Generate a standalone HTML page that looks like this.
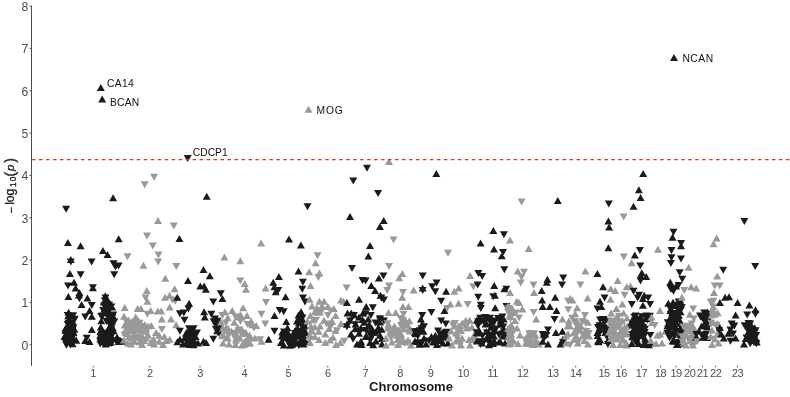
<!DOCTYPE html>
<html><head><meta charset="utf-8"><style>
html,body{margin:0;padding:0;background:#fff;}
body{width:790px;height:397px;overflow:hidden;}
svg{display:block;will-change:transform;font-family:"Liberation Sans",sans-serif;}
.b{fill:#1a1a1a}.g{fill:#999}
</style></head><body>
<svg width="790" height="397" viewBox="0 0 790 397">
<rect width="790" height="397" fill="#fff"/>
<g>
<path class="b" d="M64.6,332.9L68.6,339.9L60.6,339.9ZM61,338L69,338L65,345ZM65.4,326.7L69.4,333.7L61.4,333.7ZM65.5,331L69.5,338L61.5,338ZM65.5,324.7L69.5,331.7L61.5,331.7ZM62.1,205.7L70.1,205.7L66.1,212.7ZM66.3,324.9L70.3,331.9L62.3,331.9ZM66.4,329.7L70.4,336.7L62.4,336.7ZM62.4,341.7L70.4,341.7L66.4,348.7ZM67,327L71,334L63,334ZM63.3,332.2L71.3,332.2L67.3,339.2ZM63.7,312.1L71.7,312.1L67.7,319.1ZM63.7,321L71.7,321L67.7,328ZM67.9,238.9L71.9,245.9L63.9,245.9ZM64,282.6L72,282.6L68,289.6ZM68.3,312.3L72.3,319.3L64.3,319.3ZM68.4,293.1L72.4,300.1L64.4,300.1ZM68.6,308.7L72.6,315.7L64.6,315.7ZM64.6,319.7L72.6,319.7L68.6,326.7ZM69,315.9L73,322.9L65,322.9ZM65.6,340.4L73.6,340.4L69.6,347.4ZM65.6,321.3L73.6,321.3L69.6,328.3ZM69.9,270L73.9,277L65.9,277ZM65.9,326.6L73.9,326.6L69.9,333.6ZM66.4,341.2L74.4,341.2L70.4,348.2ZM66.5,338.8L74.5,338.8L70.5,345.8ZM70.8,256.1L74.8,263.1L66.8,263.1ZM66.8,258.5L74.8,258.5L70.8,265.5ZM70.9,332.2L74.9,339.2L66.9,339.2ZM70.9,318.2L74.9,325.2L66.9,325.2ZM67,328.4L75,328.4L71,335.4ZM67.4,312.9L75.4,312.9L71.4,319.9ZM67.7,338.9L75.7,338.9L71.7,345.9ZM67.8,335.4L75.8,335.4L71.8,342.4ZM72.2,331.8L76.2,338.8L68.2,338.8ZM68.4,326.5L76.4,326.5L72.4,333.5ZM72.5,321.4L76.5,328.4L68.5,328.4ZM72.6,323.5L76.6,330.5L68.6,330.5ZM68.6,330.2L76.6,330.2L72.6,337.2ZM72.6,340.2L76.6,347.2L68.6,347.2ZM73.1,318.5L77.1,325.5L69.1,325.5ZM73.1,324.9L77.1,331.9L69.1,331.9ZM69.1,312.3L77.1,312.3L73.1,319.3ZM69.2,325L77.2,325L73.2,332ZM73.4,328.2L77.4,335.2L69.4,335.2ZM73.5,329.3L77.5,336.3L69.5,336.3ZM74,278.8L78,285.8L70,285.8ZM74.4,325.7L78.4,332.7L70.4,332.7ZM70.5,316.4L78.5,316.4L74.5,323.4ZM70.5,315.8L78.5,315.8L74.5,322.8ZM75.6,284.5L79.6,291.5L71.6,291.5ZM76.3,336.8L80.3,343.8L72.3,343.8ZM78.7,291.6L82.7,298.6L74.7,298.6ZM79.4,289L83.4,296L75.4,296ZM75.4,295.3L83.4,295.3L79.4,302.3ZM80.6,242.3L84.6,249.3L76.6,249.3ZM76.6,271.2L84.6,271.2L80.6,278.2ZM81.6,301.1L85.6,308.1L77.6,308.1ZM81.2,313.5L89.2,313.5L85.2,320.5ZM85.2,336.9L89.2,343.9L81.2,343.9ZM82.7,334.7L90.7,334.7L86.7,341.7ZM87.4,294.5L91.4,301.5L83.4,301.5ZM89.5,338L93.5,345L85.5,345ZM89.6,307L93.6,314L85.6,314ZM87.6,258.6L95.6,258.6L91.6,265.6ZM87.8,301.9L95.8,301.9L91.8,308.9ZM91.8,312.8L95.8,319.8L87.8,319.8ZM91.8,326L95.8,333L87.8,333ZM92.9,284.3L96.9,291.3L88.9,291.3ZM88.9,284.3L96.9,284.3L92.9,291.3ZM100.2,331.7L104.2,338.7L96.2,338.7ZM96.3,340.6L104.3,340.6L100.3,347.6ZM100.3,327.9L104.3,334.9L96.3,334.9ZM96.4,338L104.4,338L100.4,345ZM96.8,333.9L104.8,333.9L100.8,340.9ZM100.8,84.1L104.8,91.1L96.8,91.1ZM100.8,323.6L104.8,330.6L96.8,330.6ZM101.3,317.2L105.3,324.2L97.3,324.2ZM97.3,313L105.3,313L101.3,320ZM97.7,337.3L105.7,337.3L101.7,344.3ZM101.9,328.9L105.9,335.9L97.9,335.9ZM98.2,313.4L106.2,313.4L102.2,320.4ZM102.2,95.6L106.2,102.6L98.2,102.6ZM98.4,312.5L106.4,312.5L102.4,319.5ZM102.9,247L106.9,254L98.9,254ZM99.2,307L107.2,307L103.2,314ZM99.7,341L107.7,341L103.7,348ZM103.8,298.6L107.8,305.6L99.8,305.6ZM100,302.2L108,302.2L104,309.2ZM104.1,330.6L108.1,337.6L100.1,337.6ZM104.5,331.6L108.5,338.6L100.5,338.6ZM104.5,305.2L108.5,312.2L100.5,312.2ZM101,297.4L109,297.4L105,304.4ZM105.1,338.5L109.1,345.5L101.1,345.5ZM105.2,307.3L109.2,314.3L101.2,314.3ZM105.3,292.2L109.3,299.2L101.3,299.2ZM101.5,294.6L109.5,294.6L105.5,301.6ZM101.7,329.7L109.7,329.7L105.7,336.7ZM105.8,340.5L109.8,347.5L101.8,347.5ZM105.9,302.8L109.9,309.8L101.9,309.8ZM102.5,318L110.5,318L106.5,325ZM102.6,300.3L110.6,300.3L106.6,307.3ZM102.8,300.9L110.8,300.9L106.8,307.9ZM106.9,295.3L110.9,302.3L102.9,302.3ZM103.3,334L111.3,334L107.3,341ZM107.5,251L111.5,258L103.5,258ZM107.6,333.4L111.6,340.4L103.6,340.4ZM107.7,339.2L111.7,346.2L103.7,346.2ZM107.8,308.4L111.8,315.4L103.8,315.4ZM108,330L112,337L104,337ZM104,317.9L112,317.9L108,324.9ZM108.1,302.3L112.1,309.3L104.1,309.3ZM104.2,339.6L112.2,339.6L108.2,346.6ZM108.2,307.2L112.2,314.2L104.2,314.2ZM104.2,338.1L112.2,338.1L108.2,345.1ZM104.4,314.1L112.4,314.1L108.4,321.1ZM108.5,308.9L112.5,315.9L104.5,315.9ZM104.6,318.9L112.6,318.9L108.6,325.9ZM104.6,303.1L112.6,303.1L108.6,310.1ZM108.8,328.1L112.8,335.1L104.8,335.1ZM108.8,310.4L112.8,317.4L104.8,317.4ZM105.1,301.8L113.1,301.8L109.1,308.8ZM105.3,307.2L113.3,307.2L109.3,314.2ZM109.5,323L113.5,330L105.5,330ZM105.7,330.4L113.7,330.4L109.7,337.4ZM110,329.9L114,336.9L106,336.9ZM110.1,315.2L114.1,322.2L106.1,322.2ZM110.3,328.9L114.3,335.9L106.3,335.9ZM110.4,302.9L114.4,309.9L106.4,309.9ZM110.5,325.1L114.5,332.1L106.5,332.1ZM110.6,338.8L114.6,345.8L106.6,345.8ZM110.9,301.1L114.9,308.1L106.9,308.1ZM106.9,336.9L114.9,336.9L110.9,343.9ZM107,320.9L115,320.9L111,327.9ZM111.2,320.3L115.2,327.3L107.2,327.3ZM107.2,303.6L115.2,303.6L111.2,310.6ZM107.4,303.5L115.4,303.5L111.4,310.5ZM107.7,340L115.7,340L111.7,347ZM111.8,318.2L115.8,325.2L107.8,325.2ZM112.2,303.4L116.2,310.4L108.2,310.4ZM108.3,314.5L116.3,314.5L112.3,321.5ZM112.4,313.8L116.4,320.8L108.4,320.8ZM112.5,311.4L116.5,318.4L108.5,318.4ZM112.5,323.8L116.5,330.8L108.5,330.8ZM108.6,330.7L116.6,330.7L112.6,337.7ZM113.1,194.2L117.1,201.2L109.1,201.2ZM109.3,311.4L117.3,311.4L113.3,318.4ZM109.5,260.2L117.5,260.2L113.5,267.2ZM113.6,327.2L117.6,334.2L109.6,334.2ZM110.2,271.2L118.2,271.2L114.2,278.2ZM110.3,318.5L118.3,318.5L114.3,325.5ZM111.5,263.5L119.5,263.5L115.5,270.5ZM112.5,338.3L120.5,338.3L116.5,345.3ZM117.1,333.5L121.1,340.5L113.1,340.5ZM118.4,338L122.4,345L114.4,345ZM114.6,262.4L122.6,262.4L118.6,269.4ZM118.7,235.3L122.7,242.3L114.7,242.3ZM119.5,337L123.5,344L115.5,344ZM120.1,336.8L124.1,343.8L116.1,343.8ZM122,337.8L126,344.8L118,344.8Z"/>
<path class="g" d="M124,312.8L128,319.8L120,319.8ZM124,336.5L128,343.5L120,343.5ZM120.6,331.5L128.6,331.5L124.6,338.5ZM124.7,304L128.7,311L120.7,311ZM124.7,321.6L128.7,328.6L120.7,328.6ZM125.3,328.7L129.3,335.7L121.3,335.7ZM126,325.5L130,332.5L122,332.5ZM122.3,318.3L130.3,318.3L126.3,325.3ZM127,321.6L131,328.6L123,328.6ZM123.5,253.2L131.5,253.2L127.5,260.2ZM127.5,325L131.5,332L123.5,332ZM127.8,339.6L131.8,346.6L123.8,346.6ZM128,322.5L132,329.5L124,329.5ZM128.3,316.3L132.3,323.3L124.3,323.3ZM128.4,318.7L132.4,325.7L124.4,325.7ZM124.4,330.5L132.4,330.5L128.4,337.5ZM124.7,334.9L132.7,334.9L128.7,341.9ZM128.7,316.9L132.7,323.9L124.7,323.9ZM129.1,333.1L133.1,340.1L125.1,340.1ZM126.3,335.5L134.3,335.5L130.3,342.5ZM130.4,325.8L134.4,332.8L126.4,332.8ZM131,340.5L135,347.5L127,347.5ZM131.3,324L135.3,331L127.3,331ZM131.7,318L135.7,325L127.7,325ZM131.7,327.2L135.7,334.2L127.7,334.2ZM133,323.5L137,330.5L129,330.5ZM133.6,321.9L137.6,328.9L129.6,328.9ZM133.9,336.8L137.9,343.8L129.9,343.8ZM134.3,337.7L138.3,344.7L130.3,344.7ZM134.4,330L138.4,337L130.4,337ZM135.1,321.1L139.1,328.1L131.1,328.1ZM135.2,325.7L139.2,332.7L131.2,332.7ZM135.6,313.4L139.6,320.4L131.6,320.4ZM135.6,331.8L139.6,338.8L131.6,338.8ZM136.2,316.3L140.2,323.3L132.2,323.3ZM136.3,322.6L140.3,329.6L132.3,329.6ZM132.7,325.1L140.7,325.1L136.7,332.1ZM137.5,333.1L141.5,340.1L133.5,340.1ZM137.6,304.9L141.6,311.9L133.6,311.9ZM133.7,323.8L141.7,323.8L137.7,330.8ZM138.1,333.7L142.1,340.7L134.1,340.7ZM138.3,317.4L142.3,324.4L134.3,324.4ZM138.5,317.1L142.5,324.1L134.5,324.1ZM135.6,319.8L143.6,319.8L139.6,326.8ZM135.6,329.1L143.6,329.1L139.6,336.1ZM139.6,338.3L143.6,345.3L135.6,345.3ZM140,333.5L144,340.5L136,340.5ZM136.5,327.8L144.5,327.8L140.5,334.8ZM140.9,304.9L144.9,311.9L136.9,311.9ZM140.9,326.5L144.9,333.5L136.9,333.5ZM137.4,340.1L145.4,340.1L141.4,347.1ZM142,341L146,348L138,348ZM142.2,322L146.2,329L138.2,329ZM142.2,332.4L146.2,339.4L138.2,339.4ZM138.2,322.9L146.2,322.9L142.2,329.9ZM138.5,340.5L146.5,340.5L142.5,347.5ZM142.7,333.4L146.7,340.4L138.7,340.4ZM142.8,335.5L146.8,342.5L138.8,342.5ZM139.1,337.8L147.1,337.8L143.1,344.8ZM143.4,261.8L147.4,268.8L139.4,268.8ZM144.1,337L148.1,344L140.1,344ZM140.7,181.2L148.7,181.2L144.7,188.2ZM144.8,321.1L148.8,328.1L140.8,328.1ZM141.5,294.5L149.5,294.5L145.5,301.5ZM146,334.5L150,341.5L142,341.5ZM146.1,327.8L150.1,334.8L142.1,334.8ZM142.1,324.6L150.1,324.6L146.1,331.6ZM146.2,325.1L150.2,332.1L142.2,332.1ZM146.8,287.1L150.8,294.1L142.8,294.1ZM143,232.6L151,232.6L147,239.6ZM147.4,297.7L151.4,304.7L143.4,304.7ZM143.4,310.8L151.4,310.8L147.4,317.8ZM148.1,322.6L152.1,329.6L144.1,329.6ZM148.1,331.8L152.1,338.8L144.1,338.8ZM150.7,306.9L154.7,313.9L146.7,313.9ZM150.7,339L154.7,346L146.7,346ZM151.3,322L155.3,329L147.3,329ZM148.8,242.4L156.8,242.4L152.8,249.4ZM153.5,335.5L157.5,342.5L149.5,342.5ZM154,340.5L158,347.5L150,347.5ZM150.1,173.8L158.1,173.8L154.1,180.8ZM156,329L160,336L152,336ZM157.9,307.5L161.9,314.5L153.9,314.5ZM158.1,216.9L162.1,223.9L154.1,223.9ZM154.2,258.6L162.2,258.6L158.2,265.6ZM154.5,251.6L162.5,251.6L158.5,258.6ZM159.2,331.8L163.2,338.8L155.2,338.8ZM159.2,337.7L163.2,344.7L155.2,344.7ZM161.2,307.5L165.2,314.5L157.2,314.5ZM161.8,315.4L165.8,322.4L157.8,322.4ZM157.8,325.9L165.8,325.9L161.8,332.9ZM163,341L167,348L159,348ZM164.4,333.1L168.4,340.1L160.4,340.1ZM165.1,293.8L169.1,300.8L161.1,300.8ZM165.3,274.7L169.3,281.7L161.3,281.7ZM166.4,337L170.4,344L162.4,344ZM169.6,291.8L173.6,298.8L165.6,298.8ZM169.7,303.6L173.7,310.6L165.7,310.6ZM169.7,335.7L173.7,342.7L165.7,342.7ZM171,315.4L175,322.4L167,322.4ZM168.3,296.4L176.3,296.4L172.3,303.4ZM169.8,222.5L177.8,222.5L173.8,229.5ZM174.6,285.2L178.6,292.2L170.6,292.2ZM171.3,297.7L179.3,297.7L175.3,304.7ZM176.2,321.3L180.2,328.3L172.2,328.3ZM172.3,263L180.3,263L176.3,270Z"/>
<path class="b" d="M177.3,293.8L181.3,300.8L173.3,300.8ZM177.3,338.3L181.3,345.3L173.3,345.3ZM179.4,235.1L183.4,242.1L175.4,242.1ZM175.9,310.2L183.9,310.2L179.9,317.2ZM175.9,327.8L183.9,327.8L179.9,334.8ZM179.9,335.7L183.9,342.7L175.9,342.7ZM183,340.5L187,347.5L179,347.5ZM179.8,309.5L187.8,309.5L183.8,316.5ZM180.5,316.7L188.5,316.7L184.5,323.7ZM184.5,334.4L188.5,341.4L180.5,341.4ZM186,329.7L190,336.7L182,336.7ZM187.1,337.7L191.1,344.7L183.1,344.7ZM183.7,154.9L191.7,154.9L187.7,161.9ZM188,276.9L192,283.9L184,283.9ZM188.4,340L192.4,347L184.4,347ZM184.4,305.6L192.4,305.6L188.4,312.6ZM188.4,333.1L192.4,340.1L184.4,340.1ZM184.5,335L192.5,335L188.5,342ZM189.1,299.7L193.1,306.7L185.1,306.7ZM185.1,325.2L193.1,325.2L189.1,332.2ZM185.8,329.5L193.8,329.5L189.8,336.5ZM190,341L194,348L186,348ZM186.2,339.7L194.2,339.7L190.2,346.7ZM191,327.8L195,334.8L187,334.8ZM187,335.7L195,335.7L191,342.7ZM192.6,331.2L196.6,338.2L188.6,338.2ZM193,336.3L197,343.3L189,343.3ZM193.5,341.3L197.5,348.3L189.5,348.3ZM189.6,331.7L197.6,331.7L193.6,338.7ZM189.6,325.2L197.6,325.2L193.6,332.2ZM193.6,338.3L197.6,345.3L189.6,345.3ZM194,332.2L198,339.2L190,339.2ZM195.3,339.2L199.3,346.2L191.3,346.2ZM195.6,333.1L199.6,340.1L191.6,340.1ZM193,329.5L201,329.5L197,336.5ZM198,339.5L202,346.5L194,346.5ZM200.3,282.6L204.3,289.6L196.3,289.6ZM203.5,265.9L207.5,272.9L199.5,272.9ZM203.5,337.7L207.5,344.7L199.5,344.7ZM204.1,282.6L208.1,289.6L200.1,289.6ZM204.1,308.2L208.1,315.2L200.1,315.2ZM204.8,313.4L208.8,320.4L200.8,320.4ZM205.8,285.8L209.8,292.8L201.8,292.8ZM206.1,339L210.1,346L202.1,346ZM206.7,192.8L210.7,199.8L202.7,199.8ZM209.8,272.3L213.8,279.3L205.8,279.3ZM207.3,310.8L215.3,310.8L211.3,317.8ZM209.3,298.4L217.3,298.4L213.3,305.4ZM209.3,335.7L217.3,335.7L213.3,342.7ZM209.6,318.2L217.6,318.2L213.6,325.2ZM210.6,318.7L218.6,318.7L214.6,325.7ZM211,315.5L219,315.5L215,322.5ZM211.8,325.7L219.8,325.7L215.8,332.7ZM216.5,317.5L220.5,324.5L212.5,324.5ZM217.2,327.2L221.2,334.2L213.2,334.2ZM213.4,323.9L221.4,323.9L217.4,330.9ZM213.5,317.8L221.5,317.8L217.5,324.8ZM213.8,329.1L221.8,329.1L217.8,336.1ZM213.8,321.3L221.8,321.3L217.8,328.3ZM217.8,319.7L221.8,326.7L213.8,326.7ZM214,320L222,320L218,327ZM214.5,325.2L222.5,325.2L218.5,332.2ZM215,329.5L223,329.5L219,336.5ZM216.8,290.2L224.8,290.2L220.8,297.2Z"/>
<path class="g" d="M221,318.5L225,325.5L217,325.5ZM222,331.5L226,338.5L218,338.5Z"/>
<path class="b" d="M222.4,295.1L226.4,302.1L218.4,302.1Z"/>
<path class="g" d="M218.4,312.1L226.4,312.1L222.4,319.1ZM222.8,332.3L226.8,339.3L218.8,339.3ZM223,324.5L227,331.5L219,331.5ZM223,339.5L227,346.5L219,346.5ZM223.6,332.1L227.6,339.1L219.6,339.1ZM224.4,253.5L228.4,260.5L220.4,260.5ZM220.5,327.5L228.5,327.5L224.5,334.5ZM225,308.2L229,315.2L221,315.2ZM222,319.5L230,319.5L226,326.5ZM226.3,324.3L230.3,331.3L222.3,331.3ZM227,334L231,341L223,341ZM227.7,334.4L231.7,341.4L223.7,341.4ZM227.7,314.1L231.7,321.1L223.7,321.1ZM228,324.8L232,331.8L224,331.8ZM228.5,326.5L232.5,333.5L224.5,333.5ZM224.6,332.3L232.6,332.3L228.6,339.3ZM229,340.5L233,347.5L225,347.5ZM231.6,327.8L235.6,334.8L227.6,334.8ZM232.2,306.9L236.2,313.9L228.2,313.9ZM234.2,318.7L238.2,325.7L230.2,325.7ZM235.3,329.1L239.3,336.1L231.3,336.1ZM231.5,313.4L239.5,313.4L235.5,320.4ZM231.5,335.7L239.5,335.7L235.5,342.7ZM235.5,340.9L239.5,347.9L231.5,347.9ZM236,336.5L240,343.5L232,343.5ZM232.1,330.1L240.1,330.1L236.1,337.1ZM232.3,339.9L240.3,339.9L236.3,346.9ZM236.7,334.5L240.7,341.5L232.7,341.5ZM237.9,313.5L241.9,320.5L233.9,320.5ZM237.9,323.9L241.9,330.9L233.9,330.9ZM234.5,327.2L242.5,327.2L238.5,334.2ZM235.5,326.6L243.5,326.6L239.5,333.6ZM240,334.5L244,341.5L236,341.5ZM240.3,257.3L244.3,264.3L236.3,264.3ZM236.3,277.6L244.3,277.6L240.3,284.6ZM240.3,311.3L244.3,318.3L236.3,318.3ZM236.5,318L244.5,318L240.5,325ZM241.8,313.5L245.8,320.5L237.8,320.5ZM242,341.5L246,348.5L238,348.5ZM238,330.8L246,330.8L242,337.8ZM243,327.5L247,334.5L239,334.5ZM243.1,304.3L247.1,311.3L239.1,311.3ZM244.4,340.7L248.4,347.7L240.4,347.7ZM244.7,280.1L248.7,287.1L240.7,287.1ZM245,337.5L249,344.5L241,344.5ZM245.6,328.8L249.6,335.8L241.6,335.8ZM246,285.8L250,292.8L242,292.8ZM246.5,330.1L250.5,337.1L242.5,337.1ZM247,312.1L251,319.1L243,319.1ZM243.5,321.1L251.5,321.1L247.5,328.1ZM248.5,339.8L252.5,346.8L244.5,346.8ZM248.7,333.7L252.7,340.7L244.7,340.7ZM249.6,331.8L253.6,338.8L245.6,338.8ZM249.8,334.6L253.8,341.6L245.8,341.6ZM245.9,321.5L253.9,321.5L249.9,328.5ZM250,339.5L254,346.5L246,346.5ZM251.1,317.8L255.1,324.8L247.1,324.8ZM252.3,321.3L256.3,328.3L248.3,328.3ZM249.8,324.5L257.8,324.5L253.8,331.5ZM254.8,334.5L258.8,341.5L250.8,341.5ZM256.2,322L260.2,329L252.2,329ZM256.1,336.3L264.1,336.3L260.1,343.3ZM261.1,239.4L265.1,246.4L257.1,246.4ZM257.4,310.8L265.4,310.8L261.4,317.8ZM261.4,337.7L265.4,344.7L257.4,344.7ZM261.3,320.6L269.3,320.6L265.3,327.6ZM265.6,284.5L269.6,291.5L261.6,291.5ZM262,299L270,299L266,306Z"/>
<path class="b" d="M268.6,335.7L272.6,342.7L264.6,342.7ZM273.2,278.8L277.2,285.8L269.2,285.8ZM274.4,283.3L278.4,290.3L270.4,290.3ZM274.5,312.1L278.5,319.1L270.5,319.1ZM270.5,327.8L278.5,327.8L274.5,334.8ZM275.7,288.3L279.7,295.3L271.7,295.3ZM274.2,287.1L282.2,287.1L278.2,294.1ZM278.9,273.1L282.9,280.1L274.9,280.1ZM275.7,306.9L283.7,306.9L279.7,313.9ZM281,339L285,346L277,346ZM282,332.5L286,339.5L278,339.5ZM282.2,328.4L286.2,335.4L278.2,335.4ZM279.2,336.1L287.2,336.1L283.2,343.1ZM279.7,308.2L287.7,308.2L283.7,315.2ZM283.8,341.6L287.8,348.6L279.8,348.6ZM280,328.5L288,328.5L284,335.5ZM284.5,334.2L288.5,341.2L280.5,341.2ZM285.6,293.2L289.6,300.2L281.6,300.2ZM285.9,329.1L289.9,336.1L281.9,336.1ZM286,329.8L290,336.8L282,336.8ZM286.1,331L290.1,338L282.1,338ZM286.3,318L290.3,325L282.3,325ZM283,336.5L291,336.5L287,343.5ZM287.5,324.3L291.5,331.3L283.5,331.3ZM288.4,329.7L292.4,336.7L284.4,336.7ZM284.5,335.2L292.5,335.2L288.5,342.2ZM289,235.6L293,242.6L285,242.6ZM289,331.5L293,338.5L285,338.5ZM285.1,341L293.1,341L289.1,348ZM290,332.7L294,339.7L286,339.7ZM290.3,341.8L294.3,348.8L286.3,348.8ZM291,339.5L295,346.5L287,346.5ZM291.8,334.2L295.8,341.2L287.8,341.2ZM292,337.5L296,344.5L288,344.5ZM292.2,334L296.2,341L288.2,341ZM292.4,340.8L296.4,347.8L288.4,347.8ZM293.5,332.3L297.5,339.3L289.5,339.3ZM294.2,339.1L298.2,346.1L290.2,346.1ZM290.2,337.9L298.2,337.9L294.2,344.9ZM294.5,327.7L298.5,334.7L290.5,334.7ZM295,332.5L299,339.5L291,339.5ZM291.1,330L299.1,330L295.1,337ZM296,326.5L300,333.5L292,333.5ZM296.2,325.7L300.2,332.7L292.2,332.7ZM297,317.5L301,324.5L293,324.5ZM297.5,339.5L301.5,346.5L293.5,346.5ZM294,321.5L302,321.5L298,328.5ZM298.3,317.2L302.3,324.2L294.3,324.2ZM298.5,311.5L302.5,318.5L294.5,318.5ZM298.5,267.5L302.5,274.5L294.5,274.5ZM294.8,341.9L302.8,341.9L298.8,348.9ZM299,318.7L303,325.7L295,325.7ZM299.4,311.6L303.4,318.6L295.4,318.6ZM295.5,333.5L303.5,333.5L299.5,340.5ZM295.6,319L303.6,319L299.6,326ZM299.9,332L303.9,339L295.9,339ZM300,312.5L304,319.5L296,319.5ZM296.8,340.4L304.8,340.4L300.8,347.4ZM300.9,241.4L304.9,248.4L296.9,248.4ZM301,329.6L305,336.6L297,336.6ZM297,327.5L305,327.5L301,334.5ZM297,336.9L305,336.9L301,343.9ZM301.1,308.2L305.1,315.2L297.1,315.2ZM297.4,315.6L305.4,315.6L301.4,322.6ZM297.4,337L305.4,337L301.4,344ZM298.1,323.2L306.1,323.2L302.1,330.2ZM298.3,285.8L306.3,285.8L302.3,292.8ZM298.5,314.5L306.5,314.5L302.5,321.5ZM298.6,328.4L306.6,328.4L302.6,335.4ZM298.9,278.8L306.9,278.8L302.9,285.8ZM299,294.5L307,294.5L303,301.5ZM303,323.5L307,330.5L299,330.5ZM303.5,340.5L307.5,347.5L299.5,347.5ZM299.8,329.5L307.8,329.5L303.8,336.5ZM304,318.5L308,325.5L300,325.5ZM304,335.5L308,342.5L300,342.5ZM304.4,329L308.4,336L300.4,336ZM304.5,322.1L308.5,329.1L300.5,329.1ZM300.7,322.6L308.7,322.6L304.7,329.6ZM301,298.4L309,298.4L305,305.4ZM301,334.2L309,334.2L305,341.2ZM301.3,340.7L309.3,340.7L305.3,347.7ZM305.5,328.5L309.5,335.5L301.5,335.5ZM303.5,203.2L311.5,203.2L307.5,210.2Z"/>
<path class="g" d="M307.5,317.5L311.5,324.5L303.5,324.5ZM308.5,105.7L312.5,112.7L304.5,112.7ZM309.2,268.3L313.2,275.3L305.2,275.3ZM305.5,336.1L313.5,336.1L309.5,343.1ZM309.6,295.8L313.6,302.8L305.6,302.8ZM309.6,331.8L313.6,338.8L305.6,338.8ZM310,339L314,346L306,346ZM310.2,312.1L314.2,319.1L306.2,319.1ZM310.5,282L314.5,289L306.5,289ZM310.9,322.6L314.9,329.6L306.9,329.6ZM311.4,326.5L315.4,333.5L307.4,333.5ZM312,302.5L316,309.5L308,309.5ZM312,327.5L316,334.5L308,334.5ZM312.9,316.3L316.9,323.3L308.9,323.3ZM314.8,323.3L318.8,330.3L310.8,330.3ZM314.8,333.1L318.8,340.1L310.8,340.1ZM315,308L319,315L311,315ZM315.6,259.2L319.6,266.2L311.6,266.2ZM312.1,316.7L320.1,316.7L316.1,323.7ZM316.8,304.3L320.8,311.3L312.8,311.3ZM317.2,308.7L321.2,315.7L313.2,315.7ZM313.5,252.3L321.5,252.3L317.5,259.3ZM314.4,274L322.4,274L318.4,281ZM318.7,327.8L322.7,334.8L314.7,334.8ZM319,336L323,343L315,343ZM319.4,269.5L323.4,276.5L315.4,276.5ZM319.4,297.7L323.4,304.7L315.4,304.7ZM320,308.5L324,315.5L316,315.5ZM320,322.5L324,329.5L316,329.5ZM322,302.5L326,309.5L318,309.5ZM318,306.9L326,306.9L322,313.9ZM324,297.7L328,304.7L320,304.7ZM324,316.7L328,323.7L320,323.7ZM325.3,330.5L329.3,337.5L321.3,337.5ZM325.3,339L329.3,346L321.3,346ZM322.6,320.6L330.6,320.6L326.6,327.6ZM323.9,312.1L331.9,312.1L327.9,319.1ZM328,303L332,310L324,310ZM329,325L333,332L325,332ZM330,336.5L334,343.5L326,343.5ZM326.1,320.5L334.1,320.5L330.1,327.5ZM326.4,323.8L334.4,323.8L330.4,330.8ZM326.5,307.5L334.5,307.5L330.5,314.5ZM331.6,318L335.6,325L327.6,325ZM332,317.5L336,324.5L328,324.5ZM333.1,333.7L337.1,340.7L329.1,340.7ZM333.8,304.9L337.8,311.9L329.8,311.9ZM335.5,326.9L339.5,333.9L331.5,333.9ZM335.7,312.1L339.7,319.1L331.7,319.1ZM336,341L340,348L332,348ZM333,327.2L341,327.2L337,334.2ZM340.3,339L344.3,346L336.3,346ZM341,296.4L345,303.4L337,303.4ZM341,320L345,327L337,327ZM343.6,297.7L347.6,304.7L339.6,304.7ZM340.2,337.7L348.2,337.7L344.2,344.7ZM342.6,284.5L350.6,284.5L346.6,291.5Z"/>
<path class="b" d="M346.9,299L350.9,306L342.9,306ZM346.9,320.8L350.9,327.8L342.9,327.8ZM342.9,323.2L350.9,323.2L346.9,330.2ZM347.5,309.5L351.5,316.5L343.5,316.5ZM350,213.1L354,220.1L346,220.1ZM350,316.5L354,323.5L346,323.5ZM346.2,317.6L354.2,317.6L350.2,324.6ZM351,330.5L355,337.5L347,337.5ZM351.2,309.5L355.2,316.5L347.2,316.5ZM348,264.9L356,264.9L352,271.9ZM349.1,335.7L357.1,335.7L353.1,342.7ZM349.3,177.4L357.3,177.4L353.3,184.4ZM349.8,312.1L357.8,312.1L353.8,319.1ZM354.1,311.2L358.1,318.2L350.1,318.2ZM351.1,321.3L359.1,321.3L355.1,328.3ZM355.1,325.2L359.1,332.2L351.1,332.2ZM355.6,320.4L359.6,327.4L351.6,327.4ZM357,340.5L361,347.5L353,347.5ZM359,295.8L363,302.8L355,302.8ZM359,313.4L363,320.4L355,320.4ZM359,329.8L363,336.8L355,336.8ZM356.3,327.8L364.3,327.8L360.3,334.8ZM360.8,324.4L364.8,331.4L356.8,331.4ZM361,337.7L365,344.7L357,344.7ZM361.6,341.1L365.6,348.1L357.6,348.1ZM362.4,316L366.4,323L358.4,323ZM358.5,276.9L366.5,276.9L362.5,283.9ZM363,309.5L367,316.5L359,316.5ZM364.3,318.7L368.3,325.7L360.3,325.7ZM361.6,277.6L369.6,277.6L365.6,284.6ZM365.6,333.1L369.6,340.1L361.6,340.1ZM361.7,310.2L369.7,310.2L365.7,317.2ZM362,327L370,327L366,334ZM366.2,303L370.2,310L362.2,310ZM366.6,332.7L370.6,339.7L362.6,339.7ZM363,164.7L371,164.7L367,171.7ZM368.2,315.4L372.2,322.4L364.2,322.4ZM368.2,322.6L372.2,329.6L364.2,329.6ZM368.4,252.6L372.4,259.6L364.4,259.6ZM369.6,321.4L373.6,328.4L365.6,328.4ZM365.9,331.1L373.9,331.1L369.9,338.1ZM370,242.1L374,249.1L366,249.1ZM370.1,339L374.1,346L366.1,346ZM366.3,336.8L374.3,336.8L370.3,343.8ZM366.8,312.1L374.8,312.1L370.8,319.1ZM371.3,282L375.3,289L367.3,289ZM367.8,329.9L375.8,329.9L371.8,336.9ZM372.1,325.2L376.1,332.2L368.1,332.2ZM368.1,333.1L376.1,333.1L372.1,340.1ZM368.8,304.3L376.8,304.3L372.8,311.3ZM369.1,329.5L377.1,329.5L373.1,336.5ZM373.2,341.2L377.2,348.2L369.2,348.2ZM373.7,328.9L377.7,335.9L369.7,335.9ZM375.1,287.1L379.1,294.1L371.1,294.1ZM371.5,319.5L379.5,319.5L375.5,326.5ZM376,337.5L380,344.5L372,344.5ZM372.8,329.7L380.8,329.7L376.8,336.7ZM377.3,326.5L381.3,333.5L373.3,333.5ZM374.1,190L382.1,190L378.1,197ZM378.3,324.1L382.3,331.1L374.3,331.1ZM378.9,274.4L382.9,281.4L374.9,281.4ZM379.9,223L383.9,230L375.9,230ZM380,318.5L384,325.5L376,325.5ZM376,316.7L384,316.7L380,323.7ZM380,331.8L384,338.8L376,338.8ZM376,315.3L384,315.3L380,322.3ZM380.5,291.8L384.5,298.8L376.5,298.8ZM377.3,294.5L385.3,294.5L381.3,301.5ZM381.7,325.7L385.7,332.7L377.7,332.7ZM381.9,335L385.9,342L377.9,342ZM382,340.5L386,347.5L378,347.5ZM379.4,272.5L387.4,272.5L383.4,279.5ZM383.7,216.9L387.7,223.9L379.7,223.9ZM379.9,296.4L387.9,296.4L383.9,303.4ZM379.9,317.4L387.9,317.4L383.9,324.4Z"/>
<path class="g" d="M386,334.5L390,341.5L382,341.5ZM386,341.5L390,348.5L382,348.5ZM383.2,287.1L391.2,287.1L387.2,294.1ZM383.5,320.3L391.5,320.3L387.5,327.3ZM387.8,323.9L391.8,330.9L383.8,330.9ZM388.5,321L392.5,328L384.5,328ZM388.5,308.9L392.5,315.9L384.5,315.9ZM384.9,327.7L392.9,327.7L388.9,334.7ZM389,157.9L393,164.9L385,164.9ZM385,263L393,263L389,270ZM385,282.6L393,282.6L389,289.6ZM390.4,327.8L394.4,334.8L386.4,334.8ZM386.9,334.1L394.9,334.1L390.9,341.1ZM387,334.5L395,334.5L391,341.5ZM392,338.5L396,345.5L388,345.5ZM389.5,236.6L397.5,236.6L393.5,243.6ZM393.6,325.7L397.6,332.7L389.6,332.7ZM393.8,329L397.8,336L389.8,336ZM394.4,322.6L398.4,329.6L390.4,329.6ZM395.7,308.9L399.7,315.9L391.7,315.9ZM397,331.8L401,338.8L393,338.8ZM397.6,336.1L401.6,343.1L393.6,343.1ZM398,341L402,348L394,348ZM394,327.3L402,327.3L398,334.3ZM398.3,326.5L402.3,333.5L394.3,333.5ZM399.2,274.2L403.2,281.2L395.2,281.2ZM396.5,315L404.5,315L400.5,322ZM400.8,333.4L404.8,340.4L396.8,340.4ZM400.8,330L404.8,337L396.8,337ZM396.9,321.9L404.9,321.9L400.9,328.9ZM401,331.8L405,338.8L397,338.8ZM401.6,317.2L405.6,324.2L397.6,324.2ZM402.2,293.8L406.2,300.8L398.2,300.8ZM402.3,270L406.3,277L398.3,277ZM402.3,338.3L406.3,345.3L398.3,345.3ZM398.6,323L406.6,323L402.6,330ZM402.9,303L406.9,310L398.9,310ZM399,316.8L407,316.8L403,323.8ZM399,289L407,289L403,296ZM399.5,310.8L407.5,310.8L403.5,317.8ZM403.5,325.2L407.5,332.2L399.5,332.2ZM401,340L409,340L405,347ZM405.9,317.4L409.9,324.4L401.9,324.4ZM406,320.2L410,327.2L402,327.2ZM403.6,339.6L411.6,339.6L407.6,346.6ZM408,321.5L412,328.5L404,328.5ZM408,336.5L412,343.5L404,343.5ZM408.5,303L412.5,310L404.5,310ZM408.7,325.6L412.7,332.6L404.7,332.6ZM409.4,317.3L413.4,324.3L405.4,324.3ZM409.9,326.7L413.9,333.7L405.9,333.7ZM410,327.5L414,334.5L406,334.5ZM411,341.5L415,348.5L407,348.5ZM413.7,286.5L417.7,293.5L409.7,293.5Z"/>
<path class="b" d="M410.7,328.2L418.7,328.2L414.7,335.2ZM415,329.1L419,336.1L411,336.1ZM415,337.5L419,344.5L411,344.5ZM415.5,330.3L419.5,337.3L411.5,337.3ZM416,328.5L420,335.5L412,335.5ZM412.5,328.7L420.5,328.7L416.5,335.7ZM413.2,328.1L421.2,328.1L417.2,335.1ZM413.3,339.9L421.3,339.9L417.3,346.9ZM417.3,338.1L421.3,345.1L413.3,345.1ZM413.5,332L421.5,332L417.5,339ZM414,332.5L422,332.5L418,339.5ZM419.4,340.7L423.4,347.7L415.4,347.7ZM415.7,327.2L423.7,327.2L419.7,334.2ZM420,340L424,347L416,347ZM416.4,339.2L424.4,339.2L420.4,346.2ZM420.9,315.4L424.9,322.4L416.9,322.4ZM417.6,325.2L425.6,325.2L421.6,332.2ZM418,339.5L426,339.5L422,346.5ZM418.2,312.1L426.2,312.1L422.2,319.1ZM422.2,320.6L426.2,327.6L418.2,327.6ZM418.7,272.5L426.7,272.5L422.7,279.5ZM422.7,284.6L426.7,291.6L418.7,291.6ZM418.7,287L426.7,287L422.7,294ZM423.5,327.8L427.5,334.8L419.5,334.8ZM424,334.5L428,341.5L420,341.5ZM420,323.3L428,323.3L424,330.3ZM426,340.5L430,347.5L422,347.5ZM425,337.5L433,337.5L429,344.5ZM431,334.2L435,341.2L427,341.2ZM427.4,308.9L435.4,308.9L431.4,315.9ZM431.4,333.1L435.4,340.1L427.4,340.1ZM428.2,283.3L436.2,283.3L432.2,290.3ZM433,338.5L437,345.5L429,345.5ZM429.6,337.4L437.6,337.4L433.6,344.4ZM431.3,288.3L439.3,288.3L435.3,295.3ZM435.3,331.8L439.3,338.8L431.3,338.8ZM436.3,170L440.3,177L432.3,177ZM432.6,279.5L440.6,279.5L436.6,286.5ZM437,341L441,348L433,348ZM437.8,337L441.8,344L433.8,344ZM434,327.5L442,327.5L438,334.5ZM434,335.5L442,335.5L438,342.5ZM438.7,333.3L442.7,340.3L434.7,340.3ZM439.2,335.1L443.2,342.1L435.2,342.1ZM436.4,330.7L444.4,330.7L440.4,337.7ZM437.2,297.7L445.2,297.7L441.2,304.7ZM437.2,317.4L445.2,317.4L441.2,324.4ZM437.3,337.3L445.3,337.3L441.3,344.3ZM441.5,336.8L445.5,343.8L437.5,343.8ZM441.7,329.4L445.7,336.4L437.7,336.4ZM441.7,333.5L445.7,340.5L437.7,340.5ZM443,328.5L447,335.5L439,335.5ZM443,339.5L447,346.5L439,346.5ZM444.5,306.9L448.5,313.9L440.5,313.9ZM440.6,333.4L448.6,333.4L444.6,340.4ZM441.8,320.6L449.8,320.6L445.8,327.6ZM446.1,287.7L450.1,294.7L442.1,294.7ZM446.4,333.4L450.4,340.4L442.4,340.4ZM442.5,328.8L450.5,328.8L446.5,335.8ZM447,332.5L451,339.5L443,339.5Z"/>
<path class="g" d="M443.1,304.9L451.1,304.9L447.1,311.9Z"/>
<path class="b" d="M443.3,337.3L451.3,337.3L447.3,344.3Z"/>
<path class="g" d="M444,249.7L452,249.7L448,256.7Z"/>
<path class="b" d="M448,339.5L452,346.5L444,346.5Z"/>
<path class="g" d="M449,334.5L453,341.5L445,341.5ZM450.4,300.4L454.4,307.4L446.4,307.4ZM451,327.5L455,334.5L447,334.5ZM452,341.5L456,348.5L448,348.5ZM448.8,321.5L456.8,321.5L452.8,328.5ZM454.3,287.7L458.3,294.7L450.3,294.7ZM454.3,322.6L458.3,329.6L450.3,329.6ZM450.9,320L458.9,320L454.9,327ZM456,329.5L460,336.5L452,336.5ZM456,337.5L460,344.5L452,344.5ZM453,334.2L461,334.2L457,341.2ZM457.1,336.7L461.1,343.7L453.1,343.7ZM457.8,326.1L461.8,333.1L453.8,333.1ZM458.2,322.6L462.2,329.6L454.2,329.6ZM458.6,299.7L462.6,306.7L454.6,306.7ZM458.7,284.5L462.7,291.5L454.7,291.5ZM459.6,336.7L463.6,343.7L455.6,343.7ZM455.8,341.2L463.8,341.2L459.8,348.2ZM460.1,322.6L464.1,329.6L456.1,329.6ZM456.3,337.5L464.3,337.5L460.3,344.5ZM461,327L465,334L457,334ZM461,341.5L465,348.5L457,348.5ZM462,334.5L466,341.5L458,341.5ZM462.5,319.3L466.5,326.3L458.5,326.3ZM465.8,316.7L469.8,323.7L461.8,323.7ZM466.4,321.5L470.4,328.5L462.4,328.5ZM467,324.5L471,331.5L463,331.5ZM463.7,301L471.7,301L467.7,308ZM463.7,320.6L471.7,320.6L467.7,327.6ZM469,336L473,343L465,343ZM469.7,316.7L473.7,323.7L465.7,323.7ZM470,341.5L474,348.5L466,348.5ZM470.1,271.9L474.1,278.9L466.1,278.9ZM471.8,336.2L475.8,343.2L467.8,343.2ZM472,323.5L476,330.5L468,330.5ZM469.3,283.3L477.3,283.3L473.3,290.3ZM470,337.6L478,337.6L474,344.6ZM474,331.5L478,338.5L470,338.5Z"/>
<path class="b" d="M472.7,329.3L480.7,329.3L476.7,336.3ZM476.8,316.6L480.8,323.6L472.8,323.6ZM476.9,329.1L480.9,336.1L472.9,336.1ZM477,337.5L481,344.5L473,344.5ZM473.7,281.4L481.7,281.4L477.7,288.4ZM474,322.5L482,322.5L478,329.5ZM478,329.5L482,336.5L474,336.5ZM474.1,318.4L482.1,318.4L478.1,325.4ZM474.2,293.8L482.2,293.8L478.2,300.8ZM474.4,270L482.4,270L478.4,277ZM479.1,326.9L483.1,333.9L475.1,333.9ZM476.2,314.8L484.2,314.8L480.2,321.8ZM480.6,239.4L484.6,246.4L476.6,246.4ZM476.6,341.1L484.6,341.1L480.6,348.1ZM476.8,301.7L484.8,301.7L480.8,308.7ZM476.8,304.9L484.8,304.9L480.8,311.9ZM477,338.3L485,338.3L481,345.3ZM477.3,317.7L485.3,317.7L481.3,324.7ZM482,339.5L486,346.5L478,346.5ZM478.2,273.1L486.2,273.1L482.2,280.1ZM478.5,332.5L486.5,332.5L482.5,339.5ZM480,338.3L488,338.3L484,345.3ZM480.1,318.7L488.1,318.7L484.1,325.7ZM484.4,316.4L488.4,323.4L480.4,323.4ZM481.1,313.9L489.1,313.9L485.1,320.9ZM485.5,320.4L489.5,327.4L481.5,327.4ZM486.3,328.1L490.3,335.1L482.3,335.1ZM482.3,314.7L490.3,314.7L486.3,321.7ZM482.9,329.5L490.9,329.5L486.9,336.5ZM487.3,333.2L491.3,340.2L483.3,340.2ZM484,337.5L492,337.5L488,344.5ZM488.9,341.3L492.9,348.3L484.9,348.3ZM489,330.5L493,337.5L485,337.5ZM490,314.5L494,321.5L486,321.5ZM486,314.8L494,314.8L490,321.8ZM486.2,318.5L494.2,318.5L490.2,325.5ZM486.4,323.5L494.4,323.5L490.4,330.5ZM490.9,338.1L494.9,345.1L486.9,345.1ZM491,323.5L495,330.5L487,330.5ZM491.6,318.3L495.6,325.3L487.6,325.3ZM493,340L497,347L489,347ZM493.3,227L497.3,234L489.3,234ZM489.3,293.2L497.3,293.2L493.3,300.2ZM489.5,331.8L497.5,331.8L493.5,338.8ZM494,245.5L498,252.5L490,252.5ZM494,332.5L498,339.5L490,339.5ZM494.2,337.2L498.2,344.2L490.2,344.2ZM490.2,318.7L498.2,318.7L494.2,325.7ZM494.2,282L498.2,289L490.2,289ZM494.3,325.7L498.3,332.7L490.3,332.7ZM494.9,291.8L498.9,298.8L490.9,298.8ZM491,317.5L499,317.5L495,324.5ZM495.2,304.3L499.2,311.3L491.2,311.3ZM492,325.5L500,325.5L496,332.5ZM494.1,314.9L502.1,314.9L498.1,321.9ZM495,331.5L503,331.5L499,338.5ZM499,338.5L503,345.5L495,345.5ZM500,320.5L504,327.5L496,327.5ZM496.2,319.3L504.2,319.3L500.2,326.3ZM500.5,338.5L504.5,345.5L496.5,345.5ZM500.7,316.9L504.7,323.9L496.7,323.9ZM501.1,318.3L505.1,325.3L497.1,325.3ZM501.4,320.8L505.4,327.8L497.4,327.8ZM501.8,252.3L505.8,259.3L497.8,259.3ZM498.2,330.6L506.2,330.6L502.2,337.6ZM498.4,313.5L506.4,313.5L502.4,320.5ZM499,249L507,249L503,256ZM503,326L507,333L499,333ZM503.2,331.8L507.2,338.8L499.2,338.8ZM499.3,323.5L507.3,323.5L503.3,330.5ZM503.7,315.4L507.7,322.4L499.7,322.4ZM499.9,231.3L507.9,231.3L503.9,238.3ZM499.9,328.2L507.9,328.2L503.9,335.2ZM500.3,266.2L508.3,266.2L504.3,273.2ZM504.3,285.2L508.3,292.2L500.3,292.2ZM505,332.5L509,339.5L501,339.5ZM505,339.5L509,346.5L501,346.5ZM501.7,332.9L509.7,332.9L505.7,339.9ZM502.3,285.8L510.3,285.8L506.3,292.8ZM502.4,303L510.4,303L506.4,310Z"/>
<path class="g" d="M508,302.5L512,309.5L504,309.5ZM508.1,324.7L512.1,331.7L504.1,331.7ZM504.4,309L512.4,309L508.4,316ZM504.4,305.1L512.4,305.1L508.4,312.1ZM504.7,305.1L512.7,305.1L508.7,312.1ZM509,331.7L513,338.7L505,338.7ZM509,340.5L513,347.5L505,347.5ZM509.2,340L513.2,347L505.2,347ZM509.5,330.5L513.5,337.5L505.5,337.5ZM505.6,307.1L513.6,307.1L509.6,314.1ZM505.6,307.4L513.6,307.4L509.6,314.4ZM509.8,311.6L513.8,318.6L505.8,318.6ZM505.8,306.8L513.8,306.8L509.8,313.8ZM509.8,334.7L513.8,341.7L505.8,341.7ZM505.9,334L513.9,334L509.9,341ZM510,236.4L514,243.4L506,243.4ZM510,312.5L514,319.5L506,319.5ZM510,339.2L514,346.2L506,346.2ZM510.1,289L514.1,296L506.1,296ZM510.1,327.1L514.1,334.1L506.1,334.1ZM506.4,315.2L514.4,315.2L510.4,322.2ZM510.8,335.9L514.8,342.9L506.8,342.9ZM510.9,313.1L514.9,320.1L506.9,320.1ZM510.9,309.1L514.9,316.1L506.9,316.1ZM511,321.5L515,328.5L507,328.5ZM511.2,330.5L515.2,337.5L507.2,337.5ZM511.3,333.9L515.3,340.9L507.3,340.9ZM511.8,322.5L515.8,329.5L507.8,329.5ZM512,308.8L516,315.8L508,315.8ZM512,324L516,331L508,331ZM512,304.5L516,311.5L508,311.5ZM512.3,307.9L516.3,314.9L508.3,314.9ZM508.5,341.1L516.5,341.1L512.5,348.1ZM512.5,337.3L516.5,344.3L508.5,344.3ZM513,336.5L517,343.5L509,343.5ZM510,327.5L518,327.5L514,334.5ZM515,317L519,324L511,324ZM512,309.5L520,309.5L516,316.5ZM516.8,297.7L520.8,304.7L512.8,304.7ZM517,324.5L521,331.5L513,331.5ZM517.7,267.5L521.7,274.5L513.7,274.5ZM518,340L522,347L514,347ZM515,314.5L523,314.5L519,321.5ZM519.2,299L523.2,306L515.2,306ZM520,331.5L524,338.5L516,338.5ZM516.8,279.5L524.8,279.5L520.8,286.5ZM517.5,273.8L525.5,273.8L521.5,280.8ZM517.6,198.4L525.6,198.4L521.6,205.4ZM522.4,305.6L526.4,312.6L518.4,312.6ZM520,268.7L528,268.7L524,275.7ZM525.7,339.6L529.7,346.6L521.7,346.6ZM526.3,333.9L530.3,340.9L522.3,340.9ZM522.7,336.4L530.7,336.4L526.7,343.4ZM523,340.3L531,340.3L527,347.3ZM528.3,334.4L532.3,341.4L524.3,341.4ZM528.3,334.2L532.3,341.2L524.3,341.2ZM528.3,340.1L532.3,347.1L524.3,347.1ZM524.5,340.4L532.5,340.4L528.5,347.4ZM528.7,244.9L532.7,251.9L524.7,251.9ZM529.5,330.8L533.5,337.8L525.5,337.8ZM525.5,330L533.5,330L529.5,337ZM529.6,338.3L533.6,345.3L525.6,345.3ZM525.7,331.4L533.7,331.4L529.7,338.4ZM529.9,329.2L533.9,336.2L525.9,336.2ZM530.1,335.8L534.1,342.8L526.1,342.8ZM532.2,330.5L536.2,337.5L528.2,337.5ZM532.6,338.4L536.6,345.4L528.6,345.4ZM532.9,331.2L536.9,338.2L528.9,338.2ZM533,341L537,348L529,348ZM529.5,281.4L537.5,281.4L533.5,288.4ZM533.6,339.3L537.6,346.3L529.6,346.3ZM529.6,308.9L537.6,308.9L533.6,315.9ZM534.1,289L538.1,296L530.1,296ZM530.1,330.3L538.1,330.3L534.1,337.3ZM535.3,336.8L539.3,343.8L531.3,343.8ZM535.5,331.8L539.5,338.8L531.5,338.8ZM531.6,340.5L539.6,340.5L535.6,347.5ZM536.2,315.4L540.2,322.4L532.2,322.4ZM536.2,337L540.2,344L532.2,344ZM537.2,340.6L541.2,347.6L533.2,347.6ZM539,340.5L543,347.5L535,347.5Z"/>
<path class="b" d="M541.7,287.1L545.7,294.1L537.7,294.1ZM542.1,296.4L546.1,303.4L538.1,303.4ZM542.7,303L546.7,310L538.7,310ZM538.7,331.1L546.7,331.1L542.7,338.1ZM542.7,337.7L546.7,344.7L538.7,344.7ZM543.7,330.8L547.7,337.8L539.7,337.8ZM539.9,335.2L547.9,335.2L543.9,342.2ZM545.3,330.5L549.3,337.5L541.3,337.5ZM542.4,332.1L550.4,332.1L546.4,339.1ZM546.8,278.8L550.8,285.8L542.8,285.8ZM547.4,275.7L551.4,282.7L543.4,282.7ZM544,326.5L552,326.5L548,333.5ZM548,340.5L552,347.5L544,347.5ZM549.9,303L553.9,310L545.9,310ZM550.5,316.1L558.5,316.1L554.5,323.1ZM555.2,293.8L559.2,300.8L551.2,300.8ZM555.9,329L559.9,336L551.9,336ZM556.5,306.9L560.5,313.9L552.5,313.9ZM557.8,197.1L561.8,204.1L553.8,204.1ZM560.4,340.4L564.4,347.4L556.4,347.4ZM558,281.4L566,281.4L562,288.4ZM562.4,327.8L566.4,334.8L558.4,334.8Z"/>
<path class="g" d="M562.4,315.4L566.4,322.4L558.4,322.4Z"/>
<path class="b" d="M559,339L567,339L563,346ZM563,335.7L567,342.7L559,342.7ZM559.2,274.4L567.2,274.4L563.2,281.4Z"/>
<path class="g" d="M566,332.5L570,339.5L562,339.5ZM566,339.5L570,346.5L562,346.5ZM567.6,322.6L571.6,329.6L563.6,329.6ZM568.1,330.3L572.1,337.3L564.1,337.3ZM564.2,297.7L572.2,297.7L568.2,304.7ZM564.2,306.2L572.2,306.2L568.2,313.2ZM568.9,317.4L572.9,324.4L564.9,324.4ZM569.9,322.6L573.9,329.6L565.9,329.6ZM566,341.4L574,341.4L570,348.4ZM570.2,295.1L574.2,302.1L566.2,302.1ZM568.1,314.8L576.1,314.8L572.1,321.8ZM572.5,296.4L576.5,303.4L568.5,303.4ZM573.9,329.1L577.9,336.1L569.9,336.1ZM573.9,335.7L577.9,342.7L569.9,342.7ZM570.3,317.9L578.3,317.9L574.3,324.9ZM575.2,310.2L579.2,317.2L571.2,317.2ZM576.4,332.7L580.4,339.7L572.4,339.7ZM573,327.9L581,327.9L577,334.9ZM577.1,304.3L581.1,311.3L573.1,311.3ZM573.5,329L581.5,329L577.5,336ZM577.7,321.7L581.7,328.7L573.7,328.7ZM577.8,318.7L581.8,325.7L573.8,325.7ZM577.8,339.6L581.8,346.6L573.8,346.6ZM574.9,337.8L582.9,337.8L578.9,344.8ZM579.1,325.2L583.1,332.2L575.1,332.2ZM575.9,327.2L583.9,327.2L579.9,334.2ZM576.3,281.4L584.3,281.4L580.3,288.4ZM581.1,322.8L585.1,329.8L577.1,329.8ZM578.2,318.3L586.2,318.3L582.2,325.3ZM578.8,331.1L586.8,331.1L582.8,338.1ZM583,331.8L587,338.8L579,338.8ZM584.3,337L588.3,344L580.3,344ZM584.3,315.5L588.3,322.5L580.3,322.5ZM581,312.1L589,312.1L585,319.1ZM585.2,317L589.2,324L581.2,324ZM585.4,267.5L589.4,274.5L581.4,274.5ZM585.6,326.5L589.6,333.5L581.6,333.5ZM582.4,328L590.4,328L586.4,335ZM586.9,330.9L590.9,337.9L582.9,337.9ZM587.6,294.5L591.6,301.5L583.6,301.5ZM587.9,318.8L591.9,325.8L583.9,325.8ZM588,340.5L592,347.5L584,347.5ZM584.8,329.9L592.8,329.9L588.8,336.9ZM589,332.5L593,339.5L585,339.5Z"/>
<path class="b" d="M597.4,270L601.4,277L593.4,277ZM593.4,305.6L601.4,305.6L597.4,312.6ZM597.4,329.1L601.4,336.1L593.4,336.1ZM597.7,332L601.7,339L593.7,339ZM598,337.5L602,344.5L594,344.5ZM594,323.9L602,323.9L598,330.9ZM598.6,338.3L602.6,345.3L594.6,345.3ZM595.5,326.8L603.5,326.8L599.5,333.8ZM595.5,322.3L603.5,322.3L599.5,329.3ZM595.6,329.8L603.6,329.8L599.6,336.8ZM596,316.5L604,316.5L600,323.5ZM600,297.7L604,304.7L596,304.7ZM600.1,336.5L604.1,343.5L596.1,343.5ZM601.3,303L605.3,310L597.3,310ZM598.6,316.1L606.6,316.1L602.6,323.1ZM603.1,283.3L607.1,290.3L599.1,290.3ZM604,320L608,327L600,327ZM600,325.2L608,325.2L604,332.2ZM600.6,294.5L608.6,294.5L604.6,301.5ZM605.3,329.1L609.3,336.1L601.3,336.1ZM601.5,330.7L609.5,330.7L605.5,337.7ZM602.1,326.3L610.1,326.3L606.1,333.3ZM606.6,316.1L610.6,323.1L602.6,323.1ZM602.6,333.1L610.6,333.1L606.6,340.1ZM607.9,337L611.9,344L603.9,344ZM603.9,340.9L611.9,340.9L607.9,347.9ZM608.4,217.4L612.4,224.4L604.4,224.4ZM608.4,244.3L612.4,251.3L604.4,251.3ZM604.8,200.4L612.8,200.4L608.8,207.4Z"/>
<path class="g" d="M609,328.5L613,335.5L605,335.5Z"/>
<path class="b" d="M609.1,223.5L613.1,230.5L605.1,230.5Z"/>
<path class="g" d="M610,316.5L614,323.5L606,323.5ZM610.5,295.8L614.5,302.8L606.5,302.8ZM610.8,285.2L614.8,292.2L606.8,292.2ZM606.9,317.5L614.9,317.5L610.9,324.5ZM610.9,326.8L614.9,333.8L606.9,333.8ZM611,335L615,342L607,342ZM611.2,309.5L615.2,316.5L607.2,316.5ZM611.4,318.4L615.4,325.4L607.4,325.4ZM611.5,320.1L615.5,327.1L607.5,327.1ZM607.6,335.2L615.6,335.2L611.6,342.2ZM612,322.5L616,329.5L608,329.5ZM613,341L617,348L609,348ZM610,332.5L618,332.5L614,339.5ZM610.2,327.4L618.2,327.4L614.2,334.4ZM614.3,332.6L618.3,339.6L610.3,339.6ZM615,328L619,335L611,335ZM615.2,287.1L619.2,294.1L611.2,294.1ZM616,314.5L620,321.5L612,321.5ZM612,321.4L620,321.4L616,328.4ZM612.3,335.1L620.3,335.1L616.3,342.1ZM616.4,304.9L620.4,311.9L612.4,311.9ZM617,335.5L621,342.5L613,342.5ZM617.7,276.9L621.7,283.9L613.7,283.9ZM618,321.5L622,328.5L614,328.5ZM618.4,331.2L622.4,338.2L614.4,338.2ZM618.5,315.8L622.5,322.8L614.5,322.8ZM614.9,312.8L622.9,312.8L618.9,319.8ZM619.9,323.2L623.9,330.2L615.9,330.2ZM620,341L624,348L616,348ZM616,318.5L624,318.5L620,325.5ZM620.2,331.8L624.2,338.8L616.2,338.8ZM621,329.5L625,336.5L617,336.5ZM621.1,327L625.1,334L617.1,334ZM617.5,332.4L625.5,332.4L621.5,339.4ZM617.6,319.4L625.6,319.4L621.6,326.4ZM622,317L626,324L618,324ZM622.3,300.4L626.3,307.4L618.3,307.4ZM622.4,334.4L626.4,341.4L618.4,341.4ZM623,336.5L627,343.5L619,343.5ZM623.6,309.5L627.6,316.5L619.6,316.5ZM619.7,213.6L627.7,213.6L623.7,220.6ZM619.8,253.5L627.8,253.5L623.8,260.5ZM624.5,323.5L628.5,330.5L620.5,330.5ZM620.6,291.8L628.6,291.8L624.6,298.8ZM625.1,330L629.1,337L621.1,337ZM625.2,326.6L629.2,333.6L621.2,333.6ZM626.1,339.4L630.1,346.4L622.1,346.4ZM626.5,341.4L630.5,348.4L622.5,348.4ZM626.6,283.3L630.6,290.3L622.6,290.3ZM627,314.5L631,321.5L623,321.5ZM627,330.5L631,337.5L623,337.5ZM627,340.5L631,347.5L623,347.5ZM627.1,322.8L631.1,329.8L623.1,329.8ZM630.4,282.6L634.4,289.6L626.4,289.6Z"/>
<path class="b" d="M631.3,318.5L635.3,325.5L627.3,325.5Z"/>
<path class="g" d="M631.6,259.2L635.6,266.2L627.6,266.2Z"/>
<path class="b" d="M631.7,319.8L635.7,326.8L627.7,326.8ZM627.8,301L635.8,301L631.8,308ZM631.8,340L635.8,347L627.8,347ZM628.2,330.9L636.2,330.9L632.2,337.9ZM632.3,333.1L636.3,340.1L628.3,340.1ZM628.8,334.2L636.8,334.2L632.8,341.2ZM628.8,321.3L636.8,321.3L632.8,328.3ZM628.9,324.4L636.9,324.4L632.9,331.4ZM633,321.1L637,328.1L629,328.1ZM633.2,321.5L637.2,328.5L629.2,328.5ZM633.2,315L637.2,322L629.2,322ZM633.5,202.7L637.5,209.7L629.5,209.7ZM629.5,287.7L637.5,287.7L633.5,294.7ZM633.6,333.5L637.6,340.5L629.6,340.5ZM633.8,319.9L637.8,326.9L629.8,326.9ZM630.4,313.7L638.4,313.7L634.4,320.7ZM634.4,324.6L638.4,331.6L630.4,331.6ZM630.6,317.6L638.6,317.6L634.6,324.6ZM634.8,251.6L638.8,258.6L630.8,258.6ZM630.9,337.8L638.9,337.8L634.9,344.8ZM631.6,312.5L639.6,312.5L635.6,319.5ZM631.7,323L639.7,323L635.7,330ZM635.8,328.1L639.8,335.1L631.8,335.1ZM636,325.4L640,332.4L632,332.4ZM632.2,329.6L640.2,329.6L636.2,336.6ZM632.3,338.7L640.3,338.7L636.3,345.7ZM636.3,322.5L640.3,329.5L632.3,329.5ZM632.4,339.5L640.4,339.5L636.4,346.5ZM636.6,331.6L640.6,338.6L632.6,338.6ZM632.8,336.7L640.8,336.7L636.8,343.7ZM636.9,331.3L640.9,338.3L632.9,338.3ZM637,314.7L641,321.7L633,321.7ZM633.2,324.5L641.2,324.5L637.2,331.5ZM633.7,294.5L641.7,294.5L637.7,301.5ZM634.1,325.1L642.1,325.1L638.1,332.1ZM638.5,326.5L642.5,333.5L634.5,333.5ZM638.9,340L642.9,347L634.9,347ZM638.9,186.2L642.9,193.2L634.9,193.2ZM639,326.6L643,333.6L635,333.6ZM635.1,291.8L643.1,291.8L639.1,298.8ZM635.3,320.9L643.3,320.9L639.3,327.9ZM635.9,247L643.9,247L639.9,254ZM636.3,262.4L644.3,262.4L640.3,269.4ZM636.4,315.8L644.4,315.8L640.4,322.8ZM640.5,271.9L644.5,278.9L636.5,278.9ZM636.5,277.6L644.5,277.6L640.5,284.6ZM640.6,194.1L644.6,201.1L636.6,201.1ZM640.8,332.1L644.8,339.1L636.8,339.1ZM637.6,318.5L645.6,318.5L641.6,325.5ZM641.7,317.8L645.7,324.8L637.7,324.8ZM641.8,269.3L645.8,276.3L637.8,276.3ZM641.9,325.1L645.9,332.1L637.9,332.1ZM638.1,313.3L646.1,313.3L642.1,320.3ZM638.3,333.4L646.3,333.4L642.3,340.4ZM642.7,321.8L646.7,328.8L638.7,328.8ZM642.9,295.1L646.9,302.1L638.9,302.1ZM642.9,301.7L646.9,308.7L638.9,308.7ZM638.9,324.9L646.9,324.9L642.9,331.9ZM639.1,323.9L647.1,323.9L643.1,330.9ZM643.2,170L647.2,177L639.2,177ZM643.6,340.9L647.6,347.9L639.6,347.9ZM644.2,291.8L648.2,298.8L640.2,298.8ZM640.7,329L648.7,329L644.7,336ZM640.8,331.7L648.8,331.7L644.8,338.7ZM640.9,325.7L648.9,325.7L644.9,332.7ZM645.1,335.4L649.1,342.4L641.1,342.4ZM646.2,273.1L650.2,280.1L642.2,280.1ZM642.4,312.4L650.4,312.4L646.4,319.4ZM646.6,315.2L650.6,322.2L642.6,322.2ZM646.9,339L650.9,346L642.9,346ZM643.3,316.5L651.3,316.5L647.3,323.5ZM644.2,294.5L652.2,294.5L648.2,301.5ZM644.2,313.3L652.2,313.3L648.2,320.3ZM648.9,341.2L652.9,348.2L644.9,348.2ZM649.2,313.6L653.2,320.6L645.2,320.6ZM649.8,338.7L653.8,345.7L645.8,345.7ZM645.9,312.8L653.9,312.8L649.9,319.8ZM646.1,301L654.1,301L650.1,308ZM646.4,331.9L654.4,331.9L650.4,338.9Z"/>
<path class="g" d="M650.8,337L654.8,344L646.8,344ZM651.5,313.4L655.5,320.4L647.5,320.4ZM652,319L656,326L648,326ZM650.7,322L658.7,322L654.7,329ZM656,340L660,347L652,347ZM657.3,331.8L661.3,338.8L653.3,338.8ZM657.9,245.7L661.9,252.7L653.9,252.7ZM660,306.9L664,313.9L656,313.9ZM660,330.5L664,337.5L656,337.5ZM662,339.5L666,346.5L658,346.5ZM665.2,327.8L669.2,334.8L661.2,334.8Z"/>
<path class="b" d="M667.6,322L671.6,329L663.6,329ZM663.6,329.9L671.6,329.9L667.6,336.9ZM663.7,319.2L671.7,319.2L667.7,326.2ZM668.2,319.8L672.2,326.8L664.2,326.8ZM668.3,299.8L672.3,306.8L664.3,306.8ZM664.8,331.1L672.8,331.1L668.8,338.1ZM665.5,334.5L673.5,334.5L669.5,341.5ZM669.8,323.1L673.8,330.1L665.8,330.1ZM670.3,278.8L674.3,285.8L666.3,285.8ZM666.3,305.5L674.3,305.5L670.3,312.5ZM670.4,307L674.4,314L666.4,314ZM666.6,319.7L674.6,319.7L670.6,326.7ZM666.9,259.9L674.9,259.9L670.9,266.9ZM666.9,285.8L674.9,285.8L670.9,292.8ZM671,305.1L675,312.1L667,312.1ZM671.1,312.4L675.1,319.4L667.1,319.4ZM667.2,331.9L675.2,331.9L671.2,338.9ZM667.4,312.1L675.4,312.1L671.4,319.1ZM667.5,247L675.5,247L671.5,254ZM667.5,254.2L675.5,254.2L671.5,261.2ZM667.7,318.2L675.7,318.2L671.7,325.2ZM672.1,323.1L676.1,330.1L668.1,330.1ZM668.2,321L676.2,321L672.2,328ZM672.2,309.6L676.2,316.6L668.2,316.6ZM668.3,322.1L676.3,322.1L672.3,329.1ZM672.5,233.8L676.5,240.8L668.5,240.8ZM672.8,337L676.8,344L668.8,344ZM673,298.7L677,305.7L669,305.7ZM669.3,330.4L677.3,330.4L673.3,337.4ZM673.3,337.7L677.3,344.7L669.3,344.7ZM669.5,228.8L677.5,228.8L673.5,235.8ZM669.5,287.8L677.5,287.8L673.5,294.8ZM673.9,302.1L677.9,309.1L669.9,309.1ZM673.9,328.3L677.9,335.3L669.9,335.3ZM674,54L678,61L670,61ZM670.4,332.9L678.4,332.9L674.4,339.9ZM670.8,326L678.8,326L674.8,333ZM670.9,320.8L678.9,320.8L674.9,327.8ZM670.9,316L678.9,316L674.9,323ZM674.9,316.4L678.9,323.4L670.9,323.4ZM671.2,322.7L679.2,322.7L675.2,329.7ZM671.3,328.5L679.3,328.5L675.3,335.5ZM671.5,301.7L679.5,301.7L675.5,308.7ZM671.6,310L679.6,310L675.6,317ZM671.6,340.3L679.6,340.3L675.6,347.3ZM671.8,339.1L679.8,339.1L675.8,346.1ZM671.8,318.3L679.8,318.3L675.8,325.3ZM676,282.5L680,289.5L672,289.5ZM676.5,325.6L680.5,332.6L672.5,332.6ZM672.6,310.3L680.6,310.3L676.6,317.3ZM676.9,341.1L680.9,348.1L672.9,348.1ZM672.9,339.9L680.9,339.9L676.9,346.9ZM677.1,315.1L681.1,322.1L673.1,322.1ZM677.3,313L681.3,320L673.3,320ZM673.3,305.2L681.3,305.2L677.3,312.2ZM677.4,300.1L681.4,307.1L673.4,307.1ZM674,304.1L682,304.1L678,311.1ZM674,303.3L682,303.3L678,310.3ZM674.4,307L682.4,307L678.4,314ZM674.5,282L682.5,282L678.5,289ZM674.6,298.5L682.6,298.5L678.6,305.5ZM674.7,303.2L682.7,303.2L678.7,310.2ZM678.8,338.7L682.8,345.7L674.8,345.7ZM678.9,311.7L682.9,318.7L674.9,318.7ZM679.5,302.8L683.5,309.8L675.5,309.8ZM675.7,269.3L683.7,269.3L679.7,276.3ZM680,330.7L684,337.7L676,337.7ZM676.2,299.3L684.2,299.3L680.2,306.3ZM676.4,302.2L684.4,302.2L680.4,309.2ZM676.6,323.8L684.6,323.8L680.6,330.8ZM680.6,308.3L684.6,315.3L676.6,315.3ZM676.7,341.4L684.7,341.4L680.7,348.4ZM676.8,306.8L684.8,306.8L680.8,313.8ZM680.9,318.7L684.9,325.7L676.9,325.7ZM676.9,328L684.9,328L680.9,335ZM681,242.2L685,249.2L677,249.2ZM677,255.4L685,255.4L681,262.4ZM677.1,239.9L685.1,239.9L681.1,246.9ZM681.2,332.4L685.2,339.4L677.2,339.4ZM681.2,340.1L685.2,347.1L677.2,347.1ZM677.2,329.7L685.2,329.7L681.2,336.7ZM681.3,333.6L685.3,340.6L677.3,340.6ZM681.3,324.7L685.3,331.7L677.3,331.7ZM677.4,332.8L685.4,332.8L681.4,339.8ZM681.6,323.8L685.6,330.8L677.6,330.8ZM677.8,304.1L685.8,304.1L681.8,311.1ZM677.8,340.3L685.8,340.3L681.8,347.3Z"/>
<path class="g" d="M681.9,293.8L685.9,300.8L677.9,300.8ZM678.2,333.5L686.2,333.5L682.2,340.5Z"/>
<path class="b" d="M678.3,275.7L686.3,275.7L682.3,282.7Z"/>
<path class="g" d="M678.4,338.2L686.4,338.2L682.4,345.2ZM683.2,337L687.2,344L679.2,344ZM683.2,337.2L687.2,344.2L679.2,344.2ZM679.4,333.8L687.4,333.8L683.4,340.8ZM679.4,323.5L687.4,323.5L683.4,330.5ZM683.8,339.6L687.8,346.6L679.8,346.6ZM680.2,287.1L688.2,287.1L684.2,294.1ZM684.5,330.5L688.5,337.5L680.5,337.5ZM680.8,333.6L688.8,333.6L684.8,340.6ZM686,341.5L690,348.5L682,348.5ZM682.1,326L690.1,326L686.1,333ZM682.5,322.8L690.5,322.8L686.5,329.8ZM683.2,327.3L691.2,327.3L687.2,334.3ZM684,323.4L692,323.4L688,330.4ZM684.1,328.2L692.1,328.2L688.1,335.2ZM684.1,335.1L692.1,335.1L688.1,342.1ZM684.2,335.8L692.2,335.8L688.2,342.8ZM688.5,322.6L692.5,329.6L684.5,329.6ZM688.6,263.7L692.6,270.7L684.6,270.7ZM689.8,310.8L693.8,317.8L685.8,317.8ZM689.8,337L693.8,344L685.8,344ZM686.5,339.9L694.5,339.9L690.5,346.9ZM690.5,332.9L694.5,339.9L686.5,339.9ZM686.7,337L694.7,337L690.7,344ZM686.9,327.3L694.9,327.3L690.9,334.3ZM691.1,283.3L695.1,290.3L687.1,290.3ZM691.1,331.8L695.1,338.8L687.1,338.8ZM687.4,325.9L695.4,325.9L691.4,332.9ZM687.7,320.4L695.7,320.4L691.7,327.4ZM688.6,331.9L696.6,331.9L692.6,338.9ZM688.7,333.2L696.7,333.2L692.7,340.2ZM693,341.5L697,348.5L689,348.5ZM689.1,305.6L697.1,305.6L693.1,312.6ZM689.7,315.4L697.7,315.4L693.7,322.4ZM693.7,323.9L697.7,330.9L689.7,330.9ZM689.9,341L697.9,341L693.9,348ZM690.6,337.4L698.6,337.4L694.6,344.4ZM695,335.7L699,342.7L691,342.7Z"/>
<path class="b" d="M696.1,334L700.1,341L692.1,341Z"/>
<path class="g" d="M696.2,284.5L700.2,291.5L692.2,291.5Z"/>
<path class="b" d="M692.3,331.1L700.3,331.1L696.3,338.1Z"/>
<path class="g" d="M696.5,334.3L700.5,341.3L692.5,341.3Z"/>
<path class="b" d="M696.5,333.6L700.5,340.6L692.5,340.6Z"/>
<path class="g" d="M693.1,338.2L701.1,338.2L697.1,345.2Z"/>
<path class="b" d="M699,327.5L703,334.5L695,334.5ZM696,312.5L704,312.5L700,319.5ZM696.8,313.4L704.8,313.4L700.8,320.4ZM697.3,313L705.3,313L701.3,320ZM701.6,322.6L705.6,329.6L697.6,329.6ZM697.6,331.8L705.6,331.8L701.6,338.8ZM702.7,333.7L706.7,340.7L698.7,340.7ZM703.4,322.6L707.4,329.6L699.4,329.6ZM703.6,312.8L707.6,319.8L699.6,319.8ZM703.6,332.7L707.6,339.7L699.6,339.7ZM700.2,309.5L708.2,309.5L704.2,316.5ZM704.5,313.3L708.5,320.3L700.5,320.3ZM700.9,310.2L708.9,310.2L704.9,317.2ZM701.5,332.2L709.5,332.2L705.5,339.2ZM701.5,315.4L709.5,315.4L705.5,322.4ZM701.5,320L709.5,320L705.5,327ZM705.8,309.1L709.8,316.1L701.8,316.1ZM701.9,313.2L709.9,313.2L705.9,320.2ZM702.1,331.1L710.1,331.1L706.1,338.1ZM702.5,317.8L710.5,317.8L706.5,324.8ZM707.1,334L711.1,341L703.1,341ZM707.3,323.4L711.3,330.4L703.3,330.4ZM707.5,308.5L711.5,315.5L703.5,315.5ZM703.5,318.7L711.5,318.7L707.5,325.7ZM704.1,310.8L712.1,310.8L708.1,317.8ZM704.2,323.6L712.2,323.6L708.2,330.6ZM708.5,317.5L712.5,324.5L704.5,324.5ZM705,311.5L713,311.5L709,318.5Z"/>
<path class="g" d="M706.7,298.7L714.7,298.7L710.7,305.7ZM710.7,333.1L714.7,340.1L706.7,340.1ZM707.2,319.7L715.2,319.7L711.2,326.7ZM711.6,311.6L715.6,318.6L707.6,318.6ZM712,318.7L716,325.7L708,325.7ZM712,326.5L716,333.5L708,333.5ZM712,340.9L716,347.9L708,347.9ZM712.7,306.5L716.7,313.5L708.7,313.5ZM709.1,303.5L717.1,303.5L713.1,310.5ZM709.3,297.7L717.3,297.7L713.3,304.7ZM713.3,303L717.3,310L709.3,310ZM713.3,306.9L717.3,313.9L709.3,313.9ZM709.3,335.7L717.3,335.7L713.3,342.7ZM709.3,311.3L717.3,311.3L713.3,318.3ZM713.5,240.2L717.5,247.2L709.5,247.2ZM714,289L718,296L710,296ZM714.6,310.8L718.6,317.8L710.6,317.8ZM710.7,282.6L718.7,282.6L714.7,289.6ZM715,335.5L719,342.5L711,342.5ZM716.6,234.6L720.6,241.6L712.6,241.6ZM712.7,321.7L720.7,321.7L716.7,328.7ZM717.2,272.5L721.2,279.5L713.2,279.5ZM717.3,320L721.3,327L713.3,327ZM717.3,330.5L721.3,337.5L713.3,337.5ZM717.7,309.2L721.7,316.2L713.7,316.2ZM718.5,339.5L722.5,346.5L714.5,346.5Z"/>
<path class="b" d="M715.2,327.2L723.2,327.2L719.2,334.2Z"/>
<path class="g" d="M715.7,282.6L723.7,282.6L719.7,289.6Z"/>
<path class="b" d="M719.9,299L723.9,306L715.9,306ZM719.9,323.9L723.9,330.9L715.9,330.9ZM721.2,330.5L725.2,337.5L717.2,337.5ZM719.2,266.8L727.2,266.8L723.2,273.8ZM723.8,334.4L727.8,341.4L719.8,341.4ZM725.1,293.8L729.1,300.8L721.1,300.8ZM728.4,329.8L732.4,336.8L724.4,336.8ZM729,293.2L733,300.2L725,300.2ZM726.4,326.5L734.4,326.5L730.4,333.5ZM726.4,337.7L734.4,337.7L730.4,344.7ZM727.7,320.6L735.7,320.6L731.7,327.6ZM729,330.5L737,330.5L733,337.5ZM730.3,322.6L738.3,322.6L734.3,329.6ZM735.6,311.5L739.6,318.5L731.6,318.5ZM735.6,334.4L739.6,341.4L731.6,341.4ZM737.6,299L741.6,306L733.6,306ZM744,340.5L748,347.5L740,347.5ZM740.4,218.1L748.4,218.1L744.4,225.1ZM740.7,322.3L748.7,322.3L744.7,329.3ZM745.7,334.9L749.7,341.9L741.7,341.9ZM742.5,334.5L750.5,334.5L746.5,341.5ZM742.6,322.7L750.6,322.7L746.6,329.7ZM743.2,311.5L751.2,311.5L747.2,318.5ZM747.5,329.8L751.5,336.8L743.5,336.8ZM744,327.6L752,327.6L748,334.6ZM744.5,319.9L752.5,319.9L748.5,326.9ZM744.7,337.2L752.7,337.2L748.7,344.2ZM744.9,327.7L752.9,327.7L748.9,334.7ZM745.4,332.7L753.4,332.7L749.4,339.7ZM749.4,301.6L753.4,308.6L745.4,308.6ZM750.1,330.6L754.1,337.6L746.1,337.6ZM746.2,320.6L754.2,320.6L750.2,327.6ZM746.2,340.2L754.2,340.2L750.2,347.2ZM746.5,334.9L754.5,334.9L750.5,341.9ZM751,321.3L755,328.3L747,328.3ZM747.1,333.5L755.1,333.5L751.1,340.5ZM751.3,330.5L755.3,337.5L747.3,337.5ZM747.3,331.9L755.3,331.9L751.3,338.9ZM751.7,334.2L755.7,341.2L747.7,341.2ZM751.8,326.4L755.8,333.4L747.8,333.4ZM748.8,335.7L756.8,335.7L752.8,342.7ZM754,330.4L758,337.4L750,337.4ZM754.2,337.1L758.2,344.1L750.2,344.1ZM754.7,324.3L758.7,331.3L750.7,331.3ZM754.7,336.4L758.7,343.4L750.7,343.4ZM751.2,263L759.2,263L755.2,270ZM755.5,306.2L759.5,313.2L751.5,313.2ZM751.5,310.7L759.5,310.7L755.5,317.7ZM751.5,327.3L759.5,327.3L755.5,334.3ZM752.3,331.9L760.3,331.9L756.3,338.9ZM752.3,340.2L760.3,340.2L756.3,347.2ZM756.4,335.4L760.4,342.4L752.4,342.4ZM756.7,338.4L760.7,345.4L752.7,345.4Z"/>
</g>
<line x1="32.06" y1="159.6" x2="790" y2="159.6" stroke="#ff2424" stroke-width="1.45" stroke-dasharray="3.5 3.48"/>
<g stroke="#4d4d4d" stroke-width="1" fill="none">
<path d="M31.5,5.8V366"/>
<path d="M29.5,344.80H31.5"/><path d="M29.5,302.45H31.5"/><path d="M29.5,260.10H31.5"/><path d="M29.5,217.75H31.5"/><path d="M29.5,175.40H31.5"/><path d="M29.5,133.05H31.5"/><path d="M29.5,90.70H31.5"/><path d="M29.5,48.35H31.5"/><path d="M29.5,6.00H31.5"/>
<path d="M93.2,365.8V367.4"/><path d="M149.8,365.8V367.4"/><path d="M200.0,365.8V367.4"/><path d="M244.3,365.8V367.4"/><path d="M288.4,365.8V367.4"/><path d="M327.8,365.8V367.4"/><path d="M365.3,365.8V367.4"/><path d="M400.0,365.8V367.4"/><path d="M430.6,365.8V367.4"/><path d="M463.3,365.8V367.4"/><path d="M492.7,365.8V367.4"/><path d="M522.8,365.8V367.4"/><path d="M552.9,365.8V367.4"/><path d="M575.7,365.8V367.4"/><path d="M604.1,365.8V367.4"/><path d="M621.3,365.8V367.4"/><path d="M641.5,365.8V367.4"/><path d="M660.6,365.8V367.4"/><path d="M676.1,365.8V367.4"/><path d="M689.8,365.8V367.4"/><path d="M702.4,365.8V367.4"/><path d="M715.7,365.8V367.4"/><path d="M737.4,365.8V367.4"/>
</g>
<g fill="#4d4d4d" font-size="12.2" text-anchor="end"><text x="28.3" y="349.65">0</text><text x="28.3" y="307.30">1</text><text x="28.3" y="264.95">2</text><text x="28.3" y="222.60">3</text><text x="28.3" y="180.25">4</text><text x="28.3" y="137.90">5</text><text x="28.3" y="95.55">6</text><text x="28.3" y="53.20">7</text><text x="28.3" y="10.85">8</text></g>
<g fill="#4d4d4d" font-size="11" text-anchor="middle" letter-spacing="-0.4"><text x="93.2" y="377.2">1</text><text x="149.8" y="377.2">2</text><text x="200.0" y="377.2">3</text><text x="244.3" y="377.2">4</text><text x="288.4" y="377.2">5</text><text x="327.8" y="377.2">6</text><text x="365.3" y="377.2">7</text><text x="400.0" y="377.2">8</text><text x="430.6" y="377.2">9</text><text x="463.3" y="377.2">10</text><text x="492.7" y="377.2">11</text><text x="522.8" y="377.2">12</text><text x="552.9" y="377.2">13</text><text x="575.7" y="377.2">14</text><text x="604.1" y="377.2">15</text><text x="621.3" y="377.2">16</text><text x="641.5" y="377.2">17</text><text x="660.6" y="377.2">18</text><text x="676.1" y="377.2">19</text><text x="689.8" y="377.2">20</text><text x="702.4" y="377.2">21</text><text x="715.7" y="377.2">22</text><text x="737.4" y="377.2">23</text></g>
<text x="411" y="391" font-size="13" font-weight="bold" text-anchor="middle" fill="#1a1a1a">Chromosome</text>
<g transform="translate(13.5,0) rotate(-90)" fill="#1a1a1a" stroke="#1a1a1a" stroke-width="0.3">
<text x="-213.6" y="-2.4" font-size="11.3" dominant-baseline="central">&#8722;</text>
<text x="-204.7" y="0" font-size="12.4">l</text>
<text x="-202.3" y="0" font-size="12.4">o</text>
<text x="-195.5" y="0" font-size="12.4">g</text>
<text x="-187.0" y="2.7" font-size="8.2" letter-spacing="1.2">10</text>
<text x="-176.6" y="1.1" font-size="14">(</text>
<text x="-171.0" y="0" font-size="11.5" font-style="italic">p</text>
<text x="-162.8" y="1.1" font-size="14">)</text>
</g>
<g font-size="10.3" fill="#111">
<text x="107" y="87" letter-spacing="0.3">CA14</text>
<text x="110" y="106" letter-spacing="0.2">BCAN</text>
<text x="316.6" y="114" letter-spacing="0.8">MOG</text>
<text x="192.8" y="156">CDCP1</text>
<text x="682.4" y="61.5" letter-spacing="0.5">NCAN</text>
</g>
</svg>
</body></html>
